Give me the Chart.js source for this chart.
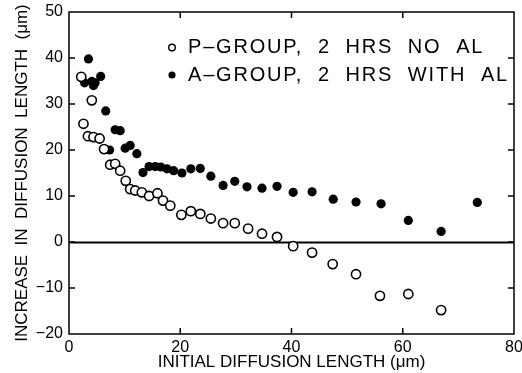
<!DOCTYPE html>
<html>
<head>
<meta charset="utf-8">
<script src="https://cdn.jsdelivr.net/npm/chart.js@4/dist/chart.umd.min.js"></script>
<style>
  html, body { margin: 0; padding: 0; background: #fff; }
  #wrap { width: 522px; height: 373px; }
</style>
</head>
<body>
<div id="wrap"><canvas id="plot"></canvas></div>
<script>
// P-group: 2 hrs, no Al (open circles)
const pX = [2.2, 4.1, 2.6, 3.4, 4.4, 5.5, 6.3, 7.4, 8.3, 9.2, 10.2, 11.0, 11.9, 13.1, 14.4, 15.9, 16.9, 18.2,
            20.2, 21.9, 23.6, 25.5, 27.7, 29.8, 32.2, 34.7, 37.4, 40.3, 43.7, 47.4, 51.6, 55.9, 61.0, 66.9];
const pY = [35.9, 30.8, 25.7, 23.0, 22.8, 22.5, 20.2, 16.8, 17.0, 15.5, 13.3, 11.5, 11.2, 10.8, 10.0, 10.6, 9.0, 7.9,
            5.9, 6.7, 6.1, 5.1, 4.1, 4.1, 2.9, 1.8, 1.1, -0.9, -2.3, -4.8, -7.0, -11.7, -11.3, -14.8];

// A-group: 2 hrs, with Al (filled dots)
const aX = [3.5, 2.8, 4.1, 4.4, 4.7, 5.7, 6.6, 7.3, 8.3, 9.2, 10.1, 11.0, 12.2, 13.3, 14.4, 15.5, 16.5, 17.6,
            18.8, 20.3, 21.9, 23.6, 25.5, 27.7, 29.8, 32.0, 34.7, 37.4, 40.3, 43.7, 47.5, 51.6, 56.1, 61.0, 66.9, 73.4];
const aY = [39.8, 34.6, 34.9, 34.0, 34.6, 36.0, 28.5, 20.0, 24.4, 24.2, 20.4, 21.0, 19.2, 15.1, 16.4, 16.4, 16.3, 15.9,
            15.5, 15.0, 15.9, 16.0, 14.3, 12.3, 13.2, 12.0, 11.7, 12.1, 10.8, 10.9, 9.3, 8.7, 8.3, 4.7, 2.3, 8.6];

const xTicks = [0, 20, 40, 60, 80];
const yTicks = [-20, -10, 0, 10, 20, 30, 40, 50];

const legendLabels = ['P\u2013GROUP,  2  HRS  NO  AL', 'A\u2013GROUP,  2  HRS  WITH  AL'];

const pts = (xs, ys) => xs.map((x, i) => ({ x, y: ys[i] }));
const FONT = "'Liberation Sans', Arial, sans-serif";

// frame, inward ticks on all sides, zero line
const framePlugin = {
  id: 'frame',
  beforeDatasetsDraw(chart) {
    const { ctx, chartArea: a, scales: { x, y } } = chart;
    ctx.save();
    ctx.strokeStyle = '#000';
    ctx.lineWidth = 2;
    const y0 = Math.round(y.getPixelForValue(0)) + 0.5;
    ctx.beginPath();
    ctx.moveTo(a.left, y0);
    ctx.lineTo(a.right, y0);
    ctx.stroke();

    ctx.lineWidth = 1.5;
    ctx.strokeRect(a.left, a.top, a.right - a.left, a.bottom - a.top);
    const len = 6;
    ctx.beginPath();
    xTicks.slice(1, -1).forEach(v => {
      const px = x.getPixelForValue(v);
      ctx.moveTo(px, a.bottom); ctx.lineTo(px, a.bottom - len);
      ctx.moveTo(px, a.top); ctx.lineTo(px, a.top + len);
    });
    yTicks.slice(1, -1).forEach(v => {
      const py = y.getPixelForValue(v);
      ctx.moveTo(a.left, py); ctx.lineTo(a.left + len, py);
      ctx.moveTo(a.right, py); ctx.lineTo(a.right - len, py);
    });
    ctx.stroke();
    ctx.restore();
  }
};

// legend block in the upper right of the plot
const legendPlugin = {
  id: 'keyBox',
  afterDraw(chart) {
    const { ctx } = chart;
    ctx.save();
    ctx.font = '20px ' + FONT;
    ctx.letterSpacing = '1.8px';
    ctx.fillStyle = '#000';
    ctx.textBaseline = 'alphabetic';
    ctx.textAlign = 'left';
    ctx.fillText(legendLabels[0], 188, 52.5);
    ctx.fillText(legendLabels[1], 188, 81);

    ctx.lineWidth = 1.4;
    ctx.strokeStyle = '#000';
    ctx.beginPath();
    ctx.arc(172, 47.5, 3.3, 0, Math.PI * 2);
    ctx.stroke();
    ctx.beginPath();
    ctx.arc(172, 75, 3.6, 0, Math.PI * 2);
    ctx.fill();
    ctx.restore();
  }
};

const minus = v => String(v).replace('-', '\u2212');

new Chart(document.getElementById('plot'), {
  type: 'scatter',
  data: {
    datasets: [
      {
        label: legendLabels[0],
        data: pts(pX, pY),
        pointRadius: 4.6,
        pointBorderWidth: 1.6,
        pointBackgroundColor: '#fff',
        pointBorderColor: '#000'
      },
      {
        label: legendLabels[1],
        data: pts(aX, aY),
        pointRadius: 4.6,
        pointBorderWidth: 0,
        pointBackgroundColor: '#000',
        pointBorderColor: '#000'
      }
    ]
  },
  options: {
    responsive: true,
    maintainAspectRatio: false,
    animation: false,
    layout: { padding: { top: 12, right: 8, left: 0, bottom: 0 } },
    plugins: { legend: { display: false }, tooltip: { enabled: false } },
    scales: {
      x: {
        type: 'linear',
        min: 0, max: 80,
        afterBuildTicks: s => { s.ticks = xTicks.map(v => ({ value: v })); },
        afterFit: s => { s.height = 39; s.paddingLeft = 0; s.paddingRight = 0; },
        grid: { display: false, drawTicks: false },
        border: { display: false },
        ticks: { color: '#000', padding: 4, maxRotation: 0, font: { family: FONT, size: 16 }, callback: minus },
        title: {
          display: true,
          text: 'INITIAL DIFFUSION LENGTH (\u03bcm)',
          color: '#000',
          font: { family: FONT, size: 17 },
          padding: { top: 0, bottom: 0 }
        }
      },
      y: {
        type: 'linear',
        min: -20, max: 50,
        afterBuildTicks: s => { s.ticks = yTicks.map(v => ({ value: v })); },
        afterFit: s => { s.width = 69; s.paddingTop = 0; s.paddingBottom = 0; },
        grid: { display: false, drawTicks: false },
        border: { display: false },
        ticks: { color: '#000', padding: 6, font: { family: FONT, size: 16 }, callback: minus },
        title: {
          display: true,
          text: 'INCREASE  IN  DIFFUSION  LENGTH  (\u03bcm)',
          color: '#000',
          font: { family: FONT, size: 17 },
          padding: { top: 12, bottom: 0 }
        }
      }
    }
  },
  plugins: [framePlugin, legendPlugin]
});
</script>
</body>
</html>
